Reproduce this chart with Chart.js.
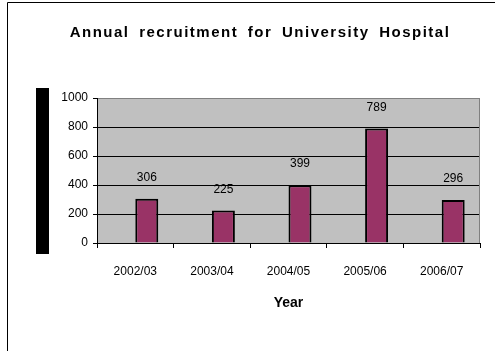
<!DOCTYPE html>
<html>
<head>
<meta charset="utf-8">
<script src="https://cdn.jsdelivr.net/npm/chart.js@4"></script>
<style>
  html, body { margin: 0; padding: 0; background: #fff; }
  canvas { display: block; }
</style>
</head>
<body>
<canvas id="myChart" width="495" height="351"></canvas>
<script>
const years = ["2002/03", "2003/04", "2004/05", "2005/06", "2006/07"];
const blank = [null, null, null, null, null];
const recruits = [306, 225, 399, 789, 296];
const yTicks = [0, 200, 400, 600, 800, 1000];

const titleText = "Annual recruitment for University Hospital";

// page frame, grey plot background and the black block on the left
const backdrop = {
    id: "backdrop",
    beforeDraw(chart) {
        const ctx = chart.ctx;
        const a = chart.chartArea;
        ctx.save();
        ctx.fillStyle = "#fff";
        ctx.fillRect(0, 0, chart.width, chart.height);
        ctx.strokeStyle = "#000";
        ctx.lineWidth = 1;
        ctx.beginPath();
        ctx.moveTo(7.5, chart.height);
        ctx.lineTo(7.5, 2.5);
        ctx.lineTo(chart.width, 2.5);
        ctx.stroke();
        ctx.fillStyle = "#c0c0c0";
        ctx.fillRect(a.left, a.top, a.right - a.left, a.bottom - a.top);
        ctx.fillStyle = "#000";
        ctx.fillRect(36, 88, 13, 166);
        ctx.restore();
    },
    beforeDatasetsDraw(chart) {
        const ctx = chart.ctx;
        const a = chart.chartArea;
        ctx.save();
        ctx.strokeStyle = "#808080";
        ctx.lineWidth = 1;
        ctx.beginPath();
        ctx.moveTo(a.right - 0.5, a.top);
        ctx.lineTo(a.right - 0.5, a.bottom);
        ctx.stroke();
        ctx.restore();
    },
    afterDraw(chart) {
        const ctx = chart.ctx;
        ctx.save();
        ctx.font = "bold 15px Arial, 'Liberation Sans'";
        ctx.letterSpacing = "1.5px";
        ctx.wordSpacing = "4px";
        ctx.fillStyle = "#000";
        ctx.textAlign = "center";
        ctx.textBaseline = "alphabetic";
        ctx.fillText(titleText, 260, 36.5);
        ctx.restore();
    },
};

// value printed above each bar
const valueLabels = {
    id: "valueLabels",
    afterDatasetsDraw(chart) {
        const ctx = chart.ctx;
        const meta = chart.getDatasetMeta(1);
        ctx.save();
        ctx.font = "12px Arial, 'Liberation Sans'";
        ctx.fillStyle = "#000";
        ctx.textAlign = "center";
        ctx.textBaseline = "middle";
        meta.data.forEach((bar, i) => {
            ctx.fillText(String(recruits[i]), bar.x, bar.y - 21);
        });
        ctx.restore();
    },
};

const config = {
    type: "bar",
    data: {
        labels: years,
        datasets: [
            {
                label: "",
                data: blank,
                backgroundColor: "#000",
            },
            {
                label: "Recruitment",
                data: recruits,
                backgroundColor: "#993366",
                borderColor: "#000",
                borderWidth: 2,
            },
        ],
    },
    options: {
        responsive: false,
        animation: false,
        events: [],
        categoryPercentage: 0.6,
        barPercentage: 1,
        layout: {
            padding: { left: 0, right: 15, top: 98, bottom: 39 },
        },
        plugins: {
            legend: { display: false },
            title: { display: false },
            tooltip: { enabled: false },
        },
        scales: {
            x: {
                afterFit(scale) {
                    scale.height = 69;
                },
                grid: {
                    offset: true,
                    drawOnChartArea: false,
                    color: "#000",
                    tickLength: 5,
                },
                border: { color: "#000", width: 1 },
                ticks: {
                    color: "#000",
                    padding: 16,
                    font: { family: "Arial, 'Liberation Sans'", size: 12 },
                },
                title: {
                    display: true,
                    text: "Year",
                    color: "#000",
                    padding: 0,
                    font: { family: "Arial, 'Liberation Sans'", size: 14, weight: "bold" },
                },
            },
            y: {
                min: 0,
                max: 1000,
                afterFit(scale) {
                    scale.width = 97;
                },
                afterBuildTicks(scale) {
                    scale.ticks = yTicks.map((v) => ({ value: v }));
                },
                grid: {
                    color: (c) => (c.tick && c.tick.value === 1000 ? "#808080" : "#000"),
                    tickColor: "#000",
                    tickLength: 4,
                },
                border: { color: "#000", width: 1 },
                ticks: {
                    color: "#000",
                    padding: 5,
                    font: { family: "Arial, 'Liberation Sans'", size: 12 },
                    callback: (v) => String(v),
                },
            },
        },
    },
    plugins: [backdrop, valueLabels],
};

new Chart(document.getElementById("myChart"), config);
</script>
</body>
</html>
